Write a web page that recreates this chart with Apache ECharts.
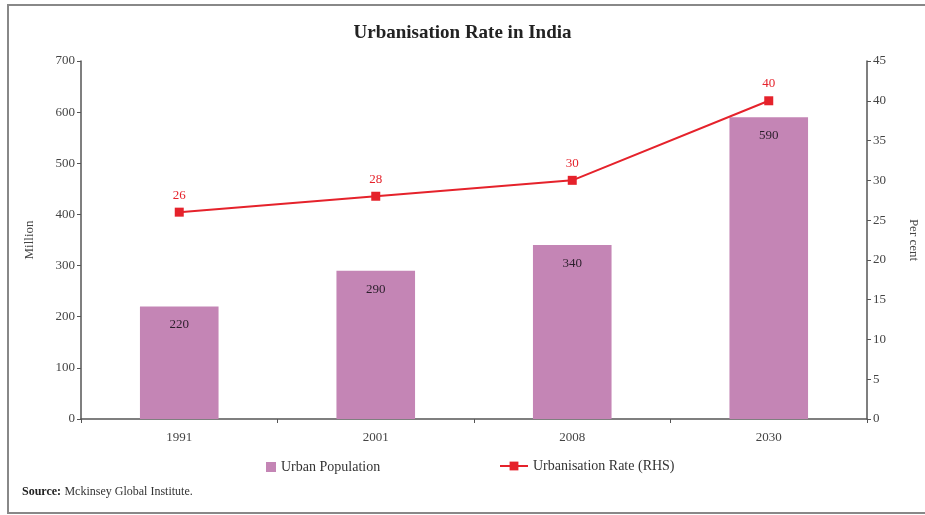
<!DOCTYPE html>
<html>
<head>
<meta charset="utf-8">
<script src="https://cdn.jsdelivr.net/npm/echarts@6/dist/echarts.min.js"></script>
<style>
  html, body { margin: 0; padding: 0; background: #fff; }
  #chart { width: 925px; height: 515px; }
</style>
</head>
<body>
<div id="chart"></div>
<script>
// Urbanisation Rate in India
var years = ["1991", "2001", "2008", "2030"];
var urbanPopulation = [220, 290, 340, 590];
var urbanisationRate = [26, 28, 30, 40];

var serif = "Liberation Serif";
var axisColor = "#555";
var labelColor = "#444";

var chart = echarts.init(document.getElementById("chart"));
var option = {
  backgroundColor: "#fff",
  animation: false,
  title: {
    text: "Urbanisation Rate in India",
    left: "center",
    top: 19,
    textStyle: { fontFamily: serif, fontSize: 19, fontWeight: "bold", color: "#222" }
  },
  legend: [
    {
      top: 455,
      left: 261,
      itemWidth: 10,
      itemHeight: 10,
      icon: "rect",
      textStyle: { fontFamily: serif, fontSize: 14, color: "#333" },
      data: ["Urban Population"]
    },
    {
      top: 454,
      left: 494,
      itemWidth: 28,
      itemHeight: 11,
      textStyle: { fontFamily: serif, fontSize: 14, color: "#333" },
      data: ["Urbanisation Rate (RHS)"]
    }
  ],
  grid: { left: 81, right: 58, top: 61, bottom: 96, outerBoundsMode: "none" },
  xAxis: {
    type: "category",
    data: years,
    axisLine: { lineStyle: { color: axisColor, width: 1.5 } },
    axisTick: { show: true, length: 4, lineStyle: { color: axisColor } },
    axisLabel: { fontFamily: serif, fontSize: 13, color: labelColor, margin: 12 }
  },
  yAxis: [
    {
      type: "value",
      name: "Million",
      nameLocation: "middle",
      nameGap: 45,
      nameTextStyle: { fontFamily: serif, fontSize: 13, color: labelColor },
      min: 0,
      max: 700,
      interval: 100,
      axisLine: { show: true, lineStyle: { color: axisColor, width: 1.5 } },
      axisTick: { show: true, length: 4, lineStyle: { color: axisColor } },
      axisLabel: { fontFamily: serif, fontSize: 13, color: labelColor, margin: 6 },
      splitLine: { show: false }
    },
    {
      type: "value",
      name: "Per cent",
      nameLocation: "middle",
      nameGap: 40,
      nameRotate: -90,
      nameTextStyle: { fontFamily: serif, fontSize: 13, color: labelColor },
      min: 0,
      max: 45,
      interval: 5,
      axisLine: { show: true, lineStyle: { color: axisColor, width: 1.5 } },
      axisTick: { show: true, length: 4, lineStyle: { color: axisColor } },
      axisLabel: { fontFamily: serif, fontSize: 13, color: labelColor, margin: 6 },
      splitLine: { show: false }
    }
  ],
  series: [
    {
      name: "Urban Population",
      type: "bar",
      data: urbanPopulation,
      barWidth: "40%",
      itemStyle: { color: "#c485b5" },
      label: {
        show: true,
        position: "insideTop",
        distance: 12,
        fontFamily: serif,
        fontSize: 13,
        color: "#2b1f2b"
      }
    },
    {
      name: "Urbanisation Rate (RHS)",
      type: "line",
      yAxisIndex: 1,
      data: urbanisationRate,
      symbol: "rect",
      symbolSize: 9,
      lineStyle: { color: "#e5222b", width: 2 },
      itemStyle: { color: "#e5222b" },
      label: {
        show: true,
        position: "top",
        distance: 6,
        fontFamily: serif,
        fontSize: 13,
        color: "#e5222b"
      }
    }
  ],
  graphic: [
    {
      type: "rect",
      shape: { x: 8, y: 5, width: 930, height: 508 },
      style: { fill: null, stroke: "#888", lineWidth: 2 },
      silent: true
    },
    {
      type: "text",
      left: 22,
      top: 486,
      style: {
        rich: {
          b: { fontFamily: serif, fontSize: 12, fontWeight: "bold", fill: "#222" },
          n: { fontFamily: serif, fontSize: 12, fill: "#333" }
        },
        text: "{b|Source:} {n|Mckinsey Global Institute.}"
      }
    }
  ]
};
chart.setOption(option);
</script>
</body>
</html>
